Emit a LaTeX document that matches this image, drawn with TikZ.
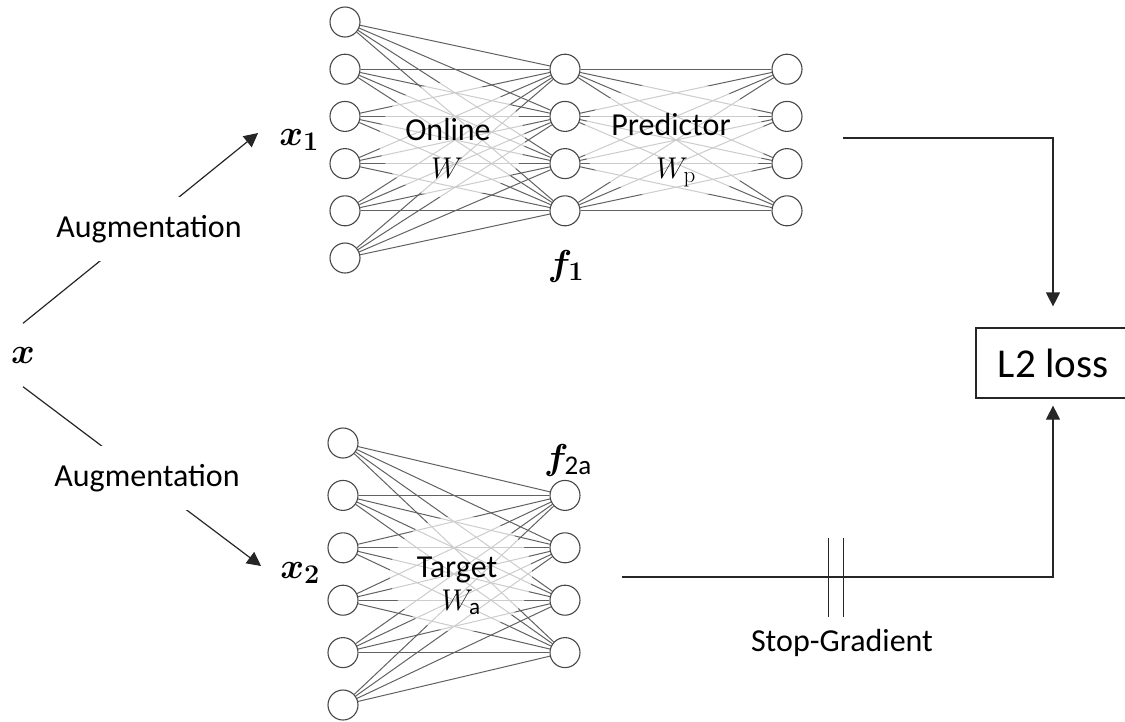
\RequirePackage{fix-cm}
\documentclass[tikz,border=0pt]{standalone}
\usepackage{amsmath}
\usepackage{bm}
\usepackage[no-math]{fontspec}
\setmainfont{Carlito}
\usetikzlibrary{arrows.meta,calc}
% larger subscripts for the big symbol labels
\DeclareMathSizes{36}{36}{27}{20}
\DeclareMathSizes{30}{30}{23}{17}

\begin{document}
\begin{tikzpicture}[x=1pt,y=-1pt,
  neuron/.style={circle,draw=black!72,fill=white,line width=1.1pt,minimum size=30pt,inner sep=0pt},
  syn/.style={draw=black!62,line width=1pt},
  veil/.style={fill=white,opacity=0.68},
  lbl/.style={font=\fontsize{32}{38}\selectfont,inner sep=0pt},
  wlbl/.style={font=\fontsize{30}{36}\selectfont,inner sep=0pt},
  mathlbl/.style={font=\fontsize{36}{40}\selectfont,inner sep=0pt},
  auglbl/.style={lbl,fill=white,inner xsep=2pt,inner ysep=18pt},
  flow/.style={draw=black!85,line width=1.2pt},
  arr/.style={flow,-{Triangle[length=14pt,width=14pt]}},
]
\useasboundingbox (0,0) rectangle (1125,721);

% ---------- online encoder and predictor ----------
\foreach \i in {1,...,6}
  \node[neuron] (oa\i) at (345,{22+47.2*(\i-1)}) {};
\foreach \j in {1,...,4} {
  \node[neuron] (ob\j) at (565,{69.2+47.2*(\j-1)}) {};
  \node[neuron] (oc\j) at (787,{69.2+47.2*(\j-1)}) {};
}
\foreach \i in {1,...,6}
  \foreach \j in {1,...,4}
    \draw[syn] (oa\i) -- (ob\j);
\foreach \i in {1,...,4}
  \foreach \j in {1,...,4}
    \draw[syn] (ob\i) -- (oc\j);

% ---------- target encoder ----------
\foreach \i in {1,...,6}
  \node[neuron] (ta\i) at (343,{443+52.4*(\i-1)}) {};
\foreach \j in {1,...,4}
  \node[neuron] (tb\j) at (565,{495.4+52.4*(\j-1)}) {};
\foreach \i in {1,...,6}
  \foreach \j in {1,...,4}
    \draw[syn] (ta\i) -- (tb\j);

% soft white patches behind the layer captions
\fill[veil] (452,140) ellipse [x radius=73, y radius=58];
\fill[veil] (674,140) ellipse [x radius=92, y radius=58];
\fill[veil] (461,574) ellipse [x radius=71, y radius=58];

% layer captions
\node[lbl,anchor=base] (onl) at (448,140) {Online};
\node[wlbl,anchor=base] (onw) at (447,178) {$W$};
\node[lbl,anchor=base] (prl) at (671,135) {Predictor};
\node[wlbl,anchor=base] (prw) at (676,178) {$W_{\mathrm{p}}$};
\node[lbl,anchor=base] (tgl) at (457,577) {Target};
\node[wlbl,anchor=base] (tgw) at (461,610) {$W_{\textnormal{a}}$};

% feature labels
\node[mathlbl] (f1) at (566,266) {$\bm{f}_{\mathbf{1}}$};
\node[mathlbl] (f2a) at (568,460) {$\bm{f}_{\textnormal{2a}}$};

% ---------- input and augmentations ----------
\node[mathlbl,minimum height=63pt] (x) at (23,355) {$\bm{x}$};
\node[mathlbl] (x1) at (299,140) {$\bm{x}_{\mathbf{1}}$};
\node[mathlbl] (x2) at (300,573) {$\bm{x}_{\mathbf{2}}$};

\draw[arr] (x.north) -- ($(x1.west)+(-21,-7)$);
\node[auglbl] (aug1) at (149,229) {Augmentation};
\draw[arr] (x.south) -- ($(x2.west)+(-19,-7)$);
\node[auglbl] (aug2) at (147,478) {Augmentation};

% ---------- loss ----------
\node[draw=black!85,line width=1.2pt,minimum width=154pt,minimum height=70pt,
      inner sep=0pt,font=\fontsize{41}{48}\selectfont] (loss) at (1053,363) {L2 loss};

\coordinate (pout) at (843,138);
\coordinate (tout) at (622,577);
\draw[arr,shorten >=21pt] (pout) -| (loss.north);
\draw[arr,shorten >=7pt] (tout) -| (loss.south);

% stop-gradient mark
\coordinate (sg1) at (828,577);
\coordinate (sg2) at (843,577);
\draw[flow,line width=1pt] ($(sg1)+(0,-39)$) -- ($(sg1)+(0,40)$);
\draw[flow,line width=1pt] ($(sg2)+(0,-39)$) -- ($(sg2)+(0,40)$);
\node[lbl] (sgl) at (842,643) {Stop-Gradient};
\end{tikzpicture}
\end{document}
